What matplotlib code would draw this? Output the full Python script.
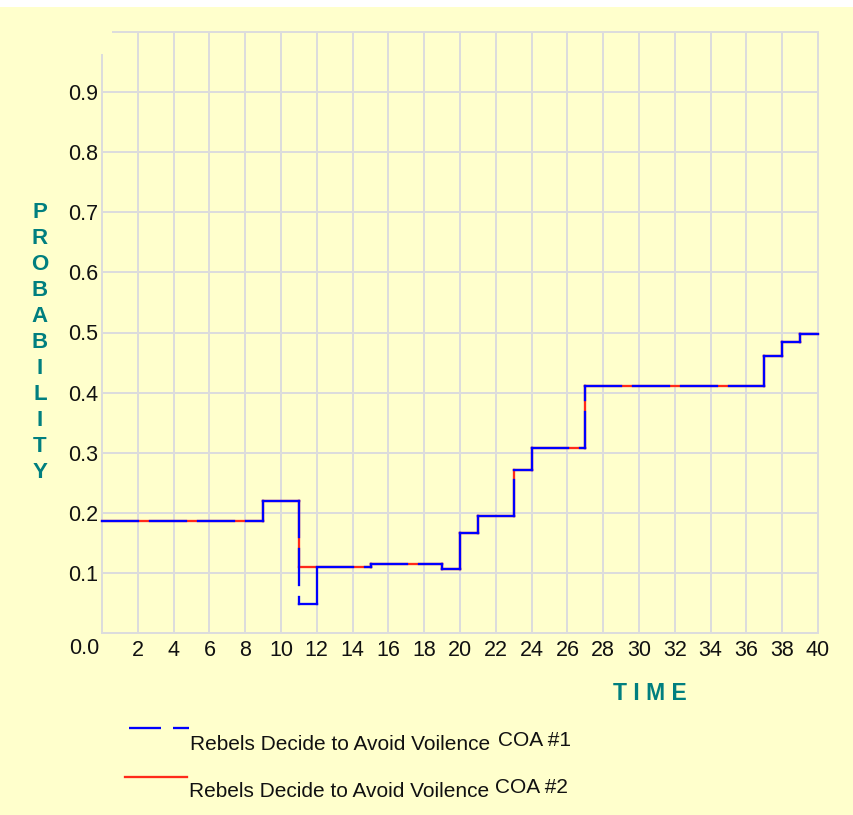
import matplotlib
matplotlib.use("Agg")
import matplotlib.pyplot as plt
from matplotlib.lines import Line2D
from matplotlib.patches import Rectangle
from matplotlib.collections import LineCollection

plt.rcParams['lines.scale_dashes'] = False
plt.rcParams['font.family'] = ['Liberation Sans', 'DejaVu Sans']

# ---- data ----
time_coa1 = [0, 9, 11, 12, 15, 19, 20, 21, 23, 24, 27, 37, 38, 39, 40]
prob_coa1 = [0.187, 0.220, 0.048, 0.110, 0.114, 0.106, 0.167, 0.195, 0.271, 0.307, 0.411, 0.461, 0.484, 0.497, 0.497]
time_coa2 = [0, 9, 11, 15, 19, 20, 21, 23, 24, 27, 37, 38, 39, 40]
prob_coa2 = [0.187, 0.220, 0.110, 0.114, 0.106, 0.167, 0.195, 0.271, 0.307, 0.411, 0.461, 0.484, 0.497, 0.497]
x_ticks = list(range(2, 41, 2))
x_tick_labels = [str(v) for v in x_ticks]
y_ticks = [round(0.1 * i, 1) for i in range(1, 10)]
y_tick_labels = ['%.1f' % v for v in y_ticks]
label_coa1 = "Rebels Decide to Avoid Voilence"
label_coa2 = "Rebels Decide to Avoid Voilence"
tag_coa1 = "COA #1"
tag_coa2 = "COA #2"
ylabel_text = "PROBABILITY"
xlabel_text = "T I M E"

BG = '#FFFFCC'
GRID = '#DCDCDC'
TEAL = '#007F7F'
BLUE = '#0000FF'
RED = '#FF2a1a'
W, H = 854, 815
px = 72.0 / 100.0  # points per pixel at dpi 100
LW = 2.3 * px


def fx(x):
    return x / W


def fy(y):
    return 1 - y / H


def step_segments(t, v):
    segs = []
    for i in range(len(t) - 1):
        segs.append([(t[i], v[i]), (t[i + 1], v[i])])
        if v[i + 1] != v[i]:
            segs.append([(t[i + 1], v[i]), (t[i + 1], v[i + 1])])
    return segs


fig = plt.figure(figsize=(W / 100, H / 100), dpi=100, facecolor=BG)
fig.patches.append(Rectangle((0, fy(7)), 1, 7 / H, transform=fig.transFigure,
                             facecolor='white', edgecolor='none', zorder=-1))

ax = fig.add_axes([fx(102), fy(633), fx(818) - fx(102), fy(32) - fy(633)])
ax.set_facecolor(BG)
ax.set_xlim(0, 40)
ax.set_ylim(0, 1.0)
ax.set_xticks(x_ticks)
ax.set_xticklabels(x_tick_labels)
ax.set_yticks(y_ticks)
ax.set_yticklabels(y_tick_labels)
ax.grid(True, color=GRID, linewidth=2 * px)
ax.set_axisbelow(True)
for s in ax.spines.values():
    s.set_color(GRID)
    s.set_linewidth(2 * px)
ax.spines['left'].set_bounds(0, 0.962)
ax.spines['top'].set_bounds(0.6, 40)
ax.tick_params(length=0, labelsize=15.5, colors='#111111')
ax.tick_params(axis='x', pad=5)
ax.tick_params(axis='y', pad=3)
ax.annotate('0.0', xy=(0, 0), xycoords='data', xytext=(-3, -5),
            textcoords='offset pixels', ha='right', va='top', fontsize=15.5, color='#111111',
            annotation_clip=False)

dash = (0, (36 * px, 12 * px))
ax.add_collection(LineCollection(step_segments(time_coa2, prob_coa2), colors=RED,
                                 linewidths=LW, zorder=3, clip_on=False, capstyle='projecting'))
ax.add_collection(LineCollection(step_segments(time_coa1, prob_coa1), colors=BLUE,
                                 linewidths=LW, linestyles=[dash], zorder=4, clip_on=False,
                                 capstyle='projecting'))

# axis titles
for i, ch in enumerate(ylabel_text):
    fig.text(fx(40), fy(213 + i * 25.9), ch, ha='center', va='center', color=TEAL,
             fontsize=16, fontweight='bold')
fig.text(fx(650), fy(694), xlabel_text, ha='center', va='center', color=TEAL,
         fontsize=16.5, fontweight='bold')

# legend
fig.add_artist(Line2D([fx(129), fx(189)], [fy(728), fy(728)], transform=fig.transFigure,
                      color=BLUE, linewidth=LW, linestyle=(0, (32 * px, 12 * px))))
fig.add_artist(Line2D([fx(125), fx(187)], [fy(777), fy(777)], transform=fig.transFigure,
                      color=RED, linewidth=LW))
fig.text(fx(190), fy(750), label_coa1, ha='left', va='baseline', fontsize=15, color='#111111')
fig.text(fx(498), fy(746), tag_coa1, ha='left', va='baseline', fontsize=15, color='#111111')
fig.text(fx(189), fy(797), label_coa2, ha='left', va='baseline', fontsize=15, color='#111111')
fig.text(fx(495), fy(793), tag_coa2, ha='left', va='baseline', fontsize=15, color='#111111')

fig.savefig('out.png', dpi=100, facecolor=BG)
